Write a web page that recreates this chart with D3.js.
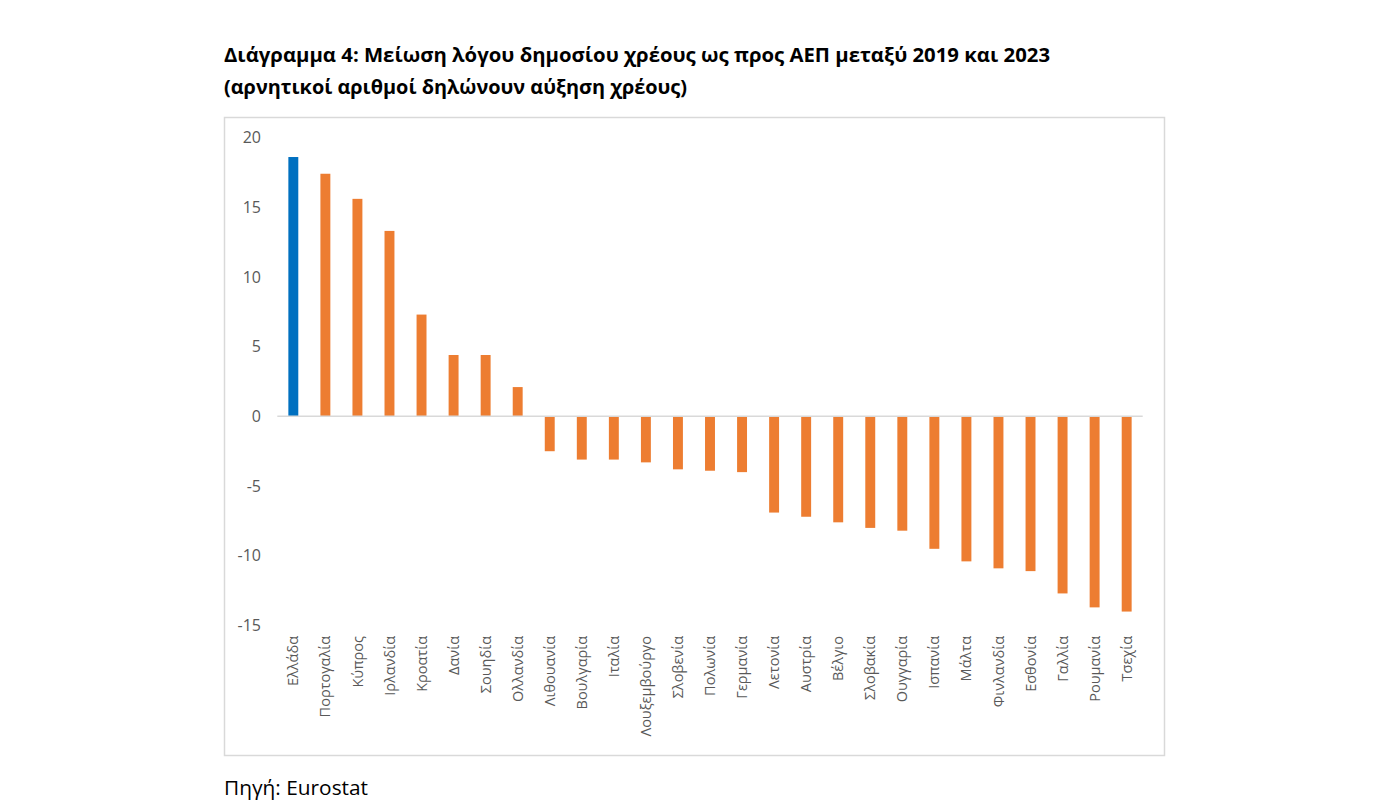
<!DOCTYPE html>
<html>
<head>
<meta charset="utf-8">
<script src="https://cdn.jsdelivr.net/npm/d3@7"></script>
<style>
  body { margin: 0; background: #fff; }
  svg { font-family: "Open Sans", "Noto Sans", sans-serif; }
</style>
</head>
<body>
<div id="chart"></div>
<script>
const countries = ["Ελλάδα", "Πορτογαλία", "Κύπρος", "Ιρλανδία", "Κροατία", "Δανία", "Σουηδία", "Ολλανδία",
  "Λιθουανία", "Βουλγαρία", "Ιταλία", "Λουξεμβούργο", "Σλοβενία", "Πολωνία", "Γερμανία", "Λετονία",
  "Αυστρία", "Βέλγιο", "Σλοβακία", "Ουγγαρία", "Ισπανία", "Μάλτα", "Φινλανδία", "Εσθονία",
  "Γαλλία", "Ρουμανία", "Τσεχία"];
const values = [18.6, 17.4, 15.6, 13.3, 7.3, 4.4, 4.4, 2.1,
  -2.5, -3.1, -3.1, -3.3, -3.8, -3.9, -4.0, -6.9,
  -7.2, -7.6, -8.0, -8.2, -9.5, -10.4, -10.9, -11.1,
  -12.7, -13.7, -14.0];
const yTicks = [20, 15, 10, 5, 0, -5, -10, -15];
const highlight = "Ελλάδα";

const width = 1390;
const height = 800;

const data = countries.map((c, i) => ({ name: c, value: values[i] }));

const svg = d3.select("#chart").append("svg")
  .attr("width", width)
  .attr("height", height);

// title
const title = svg.append("g").style("font-weight", "bold").style("font-size", "20px").attr("fill", "#000");
title.append("text")
  .attr("x", 224).attr("y", 62)
  .attr("textLength", 826).attr("lengthAdjust", "spacingAndGlyphs")
  .text("Διάγραμμα 4: Μείωση λόγου δημοσίου χρέους ως προς ΑΕΠ μεταξύ 2019 και 2023");
title.append("text")
  .attr("x", 224).attr("y", 94)
  .attr("textLength", 463).attr("lengthAdjust", "spacingAndGlyphs")
  .text("(αρνητικοί αριθμοί δηλώνουν αύξηση χρέους)");

// chart frame
svg.append("rect")
  .attr("x", 224.5).attr("y", 117.5)
  .attr("width", 940).attr("height", 638)
  .attr("fill", "none")
  .attr("stroke", "#d9d9d9")
  .attr("stroke-width", 1.5);

const x = d3.scaleBand()
  .domain(countries)
  .range([277.3, 1142.7])
  .paddingInner(0.69)
  .paddingOuter(0.345);

const y = d3.scaleLinear()
  .domain([-15, 20])
  .range([625.5, 137.5]);

// bars
svg.append("g")
  .selectAll("rect")
  .data(data)
  .join("rect")
  .attr("x", d => x(d.name))
  .attr("y", d => y(Math.max(0, d.value)))
  .attr("width", x.bandwidth())
  .attr("height", d => Math.abs(y(d.value) - y(0)))
  .attr("fill", d => d.name === highlight ? "#0070c0" : "#ed7d31");

// zero line
svg.append("line")
  .attr("x1", 277.3).attr("x2", 1142.7)
  .attr("y1", y(0)).attr("y2", y(0))
  .attr("stroke", "#d9d9d9")
  .attr("stroke-width", 1.5);

// y axis labels (plain hyphen like the original)
const yAxis = svg.append("g")
  .attr("transform", "translate(277,0)")
  .call(d3.axisLeft(y).tickValues(yTicks).tickSize(0).tickPadding(16).tickFormat(d => String(d)));
yAxis.select(".domain").remove();
yAxis.selectAll("text")
  .style("font-size", "16px")
  .style("font-family", "\"Open Sans\", \"Noto Sans\", sans-serif")
  .attr("fill", "#595959");

// category labels
svg.append("g")
  .selectAll("text")
  .data(data)
  .join("text")
  .attr("transform", d => `translate(${x(d.name) + x.bandwidth() / 2},636) rotate(-90)`)
  .attr("dy", "0.35em")
  .attr("text-anchor", "end")
  .style("font-size", "14.5px")
  .attr("fill", "#595959")
  .text(d => d.name);

// source
svg.append("text")
  .attr("x", 224).attr("y", 795)
  .style("font-size", "20px")
  .attr("textLength", 144).attr("lengthAdjust", "spacingAndGlyphs")
  .attr("fill", "#000")
  .text("Πηγή: Eurostat");
</script>
</body>
</html>
